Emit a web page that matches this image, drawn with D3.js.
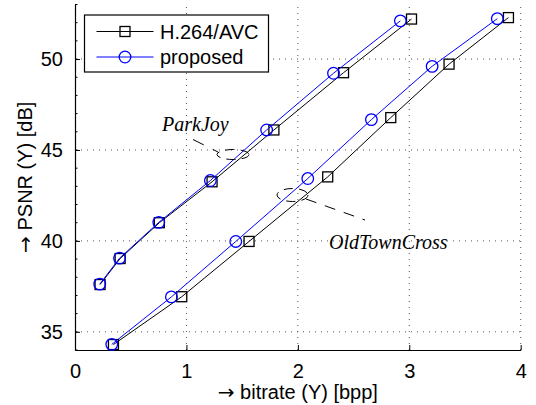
<!DOCTYPE html>
<html><head><meta charset="utf-8">
<script src="https://cdn.jsdelivr.net/npm/d3@7"></script>
<style>body{margin:0;background:#fff}svg{display:block}</style>
</head><body><svg id="c" width="536" height="405"></svg>
<script>
const parkH264X = [0.225, 0.405, 0.757, 1.23, 1.785, 2.41, 3.02];
const parkH264Y = [37.6, 39.03, 41.0, 43.25, 46.1, 49.25, 52.2];
const parkPropX = [0.222, 0.40, 0.752, 1.215, 1.72, 2.32, 2.92];
const parkPropY = [37.62, 39.05, 41.02, 43.32, 46.1, 49.22, 52.1];
const oldH264X = [0.345, 0.958, 1.562, 2.268, 2.834, 3.357, 3.89];
const oldH264Y = [34.3, 36.93, 39.97, 43.52, 46.78, 49.72, 52.28];
const oldPropX = [0.33, 0.865, 1.443, 2.089, 2.66, 3.205, 3.79];
const oldPropY = [34.31, 36.92, 39.97, 43.43, 46.67, 49.6, 52.22];
const xTicks = [0, 1, 2, 3, 4];
const yTicks = [35, 40, 45, 50];
const yMinor = d3.range(34, 54, 1);
const legendLabels = ["H.264/AVC", "proposed"];

const svg = d3.select("#c");
const x = d3.scaleLinear().domain([0, 4]).range([75, 520.7]);
const y = d3.scaleLinear().domain([34, 53]).range([350, 4.5]);
const font = "'Liberation Sans', Arial, Helvetica, sans-serif";
const arrowFont = "'DejaVu Sans', sans-serif";
const fs = 20;

// grid
const g = svg.append("g");
g.selectAll(".vg").data(xTicks.slice(1)).enter().append("line")
  .attr("x1", d => x(d)).attr("x2", d => x(d)).attr("y1", y(34)).attr("y2", y(53))
  .attr("stroke", "#555").attr("stroke-width", 1).attr("stroke-dasharray", "1,5");
g.selectAll(".hg").data(yTicks).enter().append("line")
  .attr("x1", x(0)).attr("x2", x(4)).attr("y1", d => y(d)).attr("y2", d => y(d))
  .attr("stroke", "#555").attr("stroke-width", 1).attr("stroke-dasharray", "1,5");

// axes
const xAxis = d3.axisBottom(x).tickValues(xTicks).tickFormat(d3.format("d"))
  .tickSizeInner(-5).tickSizeOuter(0).tickPadding(14);
const ax = svg.append("g").attr("transform", `translate(0,${y(34)})`).call(xAxis);
const yAxis = d3.axisLeft(y).tickValues(yTicks).tickFormat(d3.format("d"))
  .tickSizeInner(-5).tickSizeOuter(0).tickPadding(12);
const ay = svg.append("g").attr("transform", `translate(${x(0)},0)`).call(yAxis);
[ax, ay].forEach(a => {
  a.select(".domain").attr("stroke", "#000").attr("stroke-width", 1.2);
  a.selectAll(".tick line").attr("stroke", "#000");
  a.selectAll("text").attr("font-family", font).attr("font-size", fs).attr("fill", "#000");
});
ax.selectAll("text").attr("dy", "0.71em");
// y minor ticks
svg.append("g").selectAll("line").data(yMinor).enter().append("line")
  .attr("x1", x(0)).attr("x2", x(0) + 2.5).attr("y1", d => y(d)).attr("y2", d => y(d))
  .attr("stroke", "#000").attr("stroke-width", 1);

// axis labels
const xl = svg.append("text").attr("x", (x(0) + x(4)) / 2).attr("y", 399).attr("text-anchor", "middle")
  .attr("font-family", font).attr("font-size", fs).attr("fill", "#000");
xl.append("tspan").attr("font-family", arrowFont).text("\u2192");
xl.append("tspan").text(" bitrate (Y) [bpp]");
const yl = svg.append("text").attr("transform", `translate(32,${(y(34) + y(53)) / 2}) rotate(-90)`)
  .attr("text-anchor", "middle").attr("font-family", font).attr("font-size", fs).attr("fill", "#000");
yl.append("tspan").attr("font-family", arrowFont).text("\u2192");
yl.append("tspan").text(" PSNR (Y) [dB]");

// series
const line = d3.line().x(d => x(d[0])).y(d => y(d[1]));
const series = [
  {xs: parkH264X, ys: parkH264Y, color: "#000", marker: "square"},
  {xs: oldH264X, ys: oldH264Y, color: "#000", marker: "square"},
  {xs: parkPropX, ys: parkPropY, color: "#00f", marker: "circle"},
  {xs: oldPropX, ys: oldPropY, color: "#00f", marker: "circle"}
];
series.forEach(s => {
  const pts = s.xs.map((v, i) => [v, s.ys[i]]);
  svg.append("path").datum(pts).attr("d", line).attr("fill", "none")
    .attr("stroke", s.color).attr("stroke-width", 1);
  if (s.marker === "square") {
    svg.append("g").selectAll("rect").data(pts).enter().append("rect")
      .attr("x", d => x(d[0]) - 5).attr("y", d => y(d[1]) - 5)
      .attr("width", 10).attr("height", 10).attr("fill", "none")
      .attr("stroke", "#000").attr("stroke-width", 1.3);
  } else {
    svg.append("g").selectAll("circle").data(pts).enter().append("circle")
      .attr("cx", d => x(d[0])).attr("cy", d => y(d[1])).attr("r", 5.8)
      .attr("fill", "none").attr("stroke", "#00f").attr("stroke-width", 1.3);
  }
});

// annotations
const serif = "'Liberation Serif', 'Times New Roman', serif";
svg.append("text").attr("x", 162).attr("y", 131).attr("font-family", serif)
  .attr("font-style", "italic").attr("font-size", 20).text("ParkJoy");
svg.append("line").attr("x1", 193).attr("y1", 139.5).attr("x2", 218).attr("y2", 152)
  .attr("stroke", "#000").attr("stroke-width", 1).attr("stroke-dasharray", "12,10");
svg.append("ellipse").attr("cx", 233).attr("cy", 154.5).attr("rx", 16).attr("ry", 5)
  .attr("fill", "none").attr("stroke", "#000").attr("stroke-width", 1).attr("stroke-dasharray", "9,6");

svg.append("text").attr("x", 329).attr("y", 249).attr("font-family", serif)
  .attr("font-style", "italic").attr("font-size", 20).text("OldTownCross");
svg.append("line").attr("x1", 306).attr("y1", 199).attr("x2", 365).attr("y2", 220)
  .attr("stroke", "#000").attr("stroke-width", 1).attr("stroke-dasharray", "11,9");
svg.append("ellipse").attr("cx", 292.5).attr("cy", 195).attr("rx", 15.5).attr("ry", 6.5)
  .attr("fill", "none").attr("stroke", "#000").attr("stroke-width", 1).attr("stroke-dasharray", "9,6");

// legend
const lg = svg.append("g");
lg.append("rect").attr("x", 84.5).attr("y", 15).attr("width", 184).attr("height", 57)
  .attr("fill", "#fff").attr("stroke", "#000").attr("stroke-width", 1.2);
const legendStyles = [{color: "#000", marker: "square"}, {color: "#00f", marker: "circle"}];
legendLabels.forEach((lab, i) => {
  const cy = 31.5 + i * 25.5;
  lg.append("line").attr("x1", 96.5).attr("x2", 153.5).attr("y1", cy).attr("y2", cy)
    .attr("stroke", legendStyles[i].color).attr("stroke-width", 1);
  if (legendStyles[i].marker === "square") {
    lg.append("rect").attr("x", 120).attr("y", cy - 5).attr("width", 10).attr("height", 10)
      .attr("fill", "none").attr("stroke", "#000").attr("stroke-width", 1.3);
  } else {
    lg.append("circle").attr("cx", 125).attr("cy", cy).attr("r", 5.8)
      .attr("fill", "none").attr("stroke", "#00f").attr("stroke-width", 1.3);
  }
  lg.append("text").attr("x", 160).attr("y", cy).attr("dy", "0.36em")
    .attr("font-family", font).attr("font-size", fs).attr("fill", "#000").text(lab);
});
</script></body></html>
